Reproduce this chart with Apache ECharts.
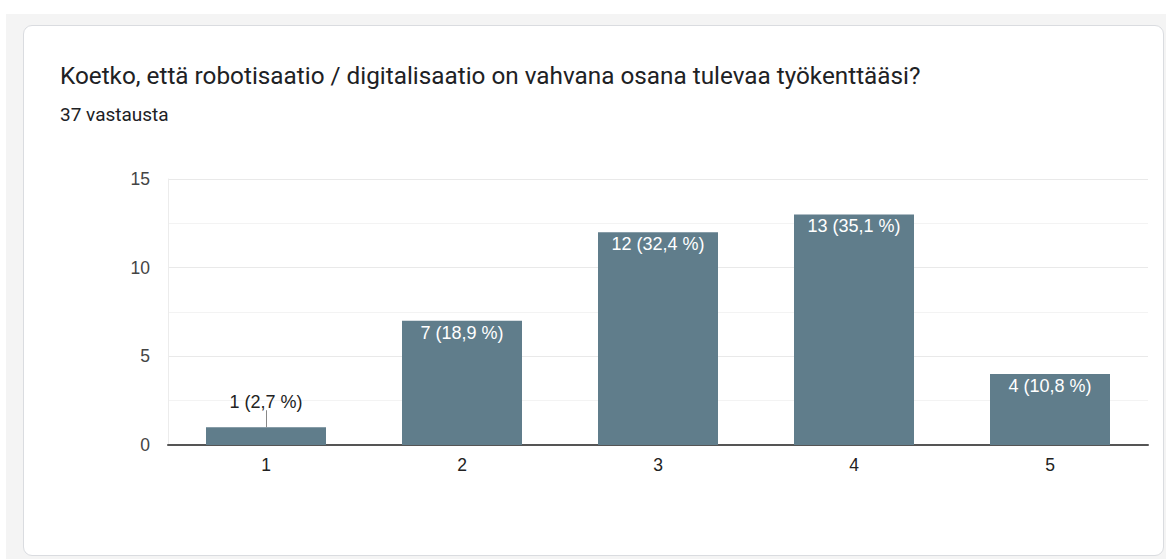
<!DOCTYPE html>
<html><head><meta charset="utf-8">
<script src="https://cdn.jsdelivr.net/npm/echarts@6/dist/echarts.min.js"></script>
<style>
html,body{margin:0;padding:0;background:#fff;width:1166px;height:559px;overflow:hidden;}
#bg{position:absolute;left:6px;top:14px;width:1160px;height:545px;background:#f4f4f4;}
#card{position:absolute;left:23px;top:25px;width:1139px;height:529px;background:#fff;border:1px solid #dadce0;border-radius:9px;}
#chart{position:absolute;left:0;top:0;width:1166px;height:559px;}
</style></head>
<body>
<div id="bg"></div><div id="card"></div>
<div id="chart"></div>
<script>
const titleText = 'Koetko, että robotisaatio / digitalisaatio on vahvana osana tulevaa työkenttääsi?';
const subtitleText = '37 vastausta';
const categories = ['1', '2', '3', '4', '5'];
const counts = [1, 7, 12, 13, 4];
const percents = ['2,7', '18,9', '32,4', '35,1', '10,8'];
const yTicks = [0, 5, 10, 15];

const FS = 17.5;
const LFS = 18;
const chart = echarts.init(document.getElementById('chart'), null, {renderer: 'svg'});
const data = counts.map((v, i) => {
  const small = v < 2;
  return {
    value: v,
    label: small ? {position: 'top', distance: 16, color: '#222'} : {}
  };
});
chart.setOption({
  backgroundColor: 'transparent',
  animation: false,
  title: {
    text: titleText,
    subtext: subtitleText,
    left: 55, top: 58,
    itemGap: 18,
    textStyle: {fontFamily: 'Roboto', fontSize: 24.3, fontWeight: 'normal', color: '#202124'},
    subtextStyle: {fontFamily: 'Roboto', fontSize: 19, color: '#202124'}
  },
  grid: {left: 168, right: 18, top: 179, bottom: 114, containLabel: false},
  xAxis: {
    type: 'category', data: categories,
    axisTick: {show: false},
    axisLine: {lineStyle: {color: '#555', width: 2}},
    axisLabel: {fontFamily: 'Liberation Sans', fontSize: FS, color: '#222', margin: 11}
  },
  yAxis: {
    type: 'value', min: yTicks[0], max: yTicks[yTicks.length - 1], interval: 5,
    axisLine: {show: true, lineStyle: {color: '#ececec'}},
    axisTick: {show: false},
    axisLabel: {fontFamily: 'Liberation Sans', fontSize: FS, color: '#444', margin: 18},
    splitLine: {lineStyle: {color: '#e9e9e9'}},
    minorTick: {show: false, splitNumber: 2},
    minorSplitLine: {show: true, lineStyle: {color: '#f3f3f3'}}
  },
  series: [{
    type: 'bar',
    data: data,
    barWidth: 120,
    itemStyle: {color: '#607d8b'},
    label: {
      show: true, position: 'insideTop', distance: 3,
      fontFamily: 'Liberation Sans', fontSize: LFS, color: '#fff',
      formatter: p => counts[p.dataIndex] + ' (' + percents[p.dataIndex] + ' %)'
    },
    markLine: {
      silent: true, symbol: 'none', label: {show: false},
      lineStyle: {color: '#888', type: 'solid', width: 1},
      data: counts.map((v, i) => v < 2 ? [{coord: [i, v]}, {coord: [i, v + 0.96]}] : null).filter(Boolean)
    }
  }]
});
</script>
</body></html>
